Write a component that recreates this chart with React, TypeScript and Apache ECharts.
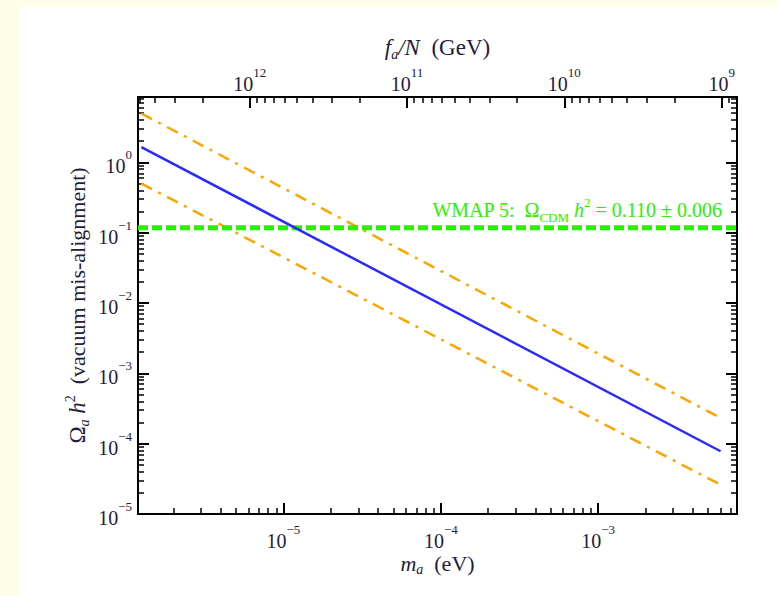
import React, { useEffect, useRef } from 'react';
import * as echarts from 'echarts';

// ---- data ----
const massEV = [1.25e-6, 6.0e-3]; // m_a (eV) at the two ends of each curve
const omegaCentral = [1.65, 7.8e-5];
const omegaUpper = [4.95, 2.32e-4];
const omegaLower = [0.5, 2.6e-5];
const wmapOmega = 0.118;
const wmapMassEnds = [1.19e-6, 7.63e-3];

// axis extents and tick decades
const massExtent = [1.19e-6, 7.63e-3];
const omegaExtent = [1e-5, 8.5];
const faConstant = 6.1e6; // f_a/N (GeV) = faConstant / m_a (eV)
const massDecades = [-5, -4, -3];
const omegaDecades = [-5, -4, -3, -2, -1, 0];
const faDecades = [9, 10, 11, 12];

const SERIF = '"Liberation Serif", "Times New Roman", "DejaVu Serif", serif';
const INK = '#241c3c';
const GREEN = '#2bef00';
const ORANGE = '#ffa500';
const BLUE = '#2a2aff';

const lg = Math.log10;
const xLo = lg(massExtent[0]);
const xHi = lg(massExtent[1]);
const yLo = lg(omegaExtent[0]);
const yHi = lg(omegaExtent[1]);
const logC = lg(faConstant);
const fLo = logC - xHi;
const fHi = logC - xLo;

function minorLogTicks(lo: number, hi: number) {
  const out: number[] = [];
  for (let n = Math.floor(lo) - 1; n <= Math.ceil(hi); n++) {
    for (let k = 2; k <= 9; k++) {
      const v = n + lg(k);
      if (v > lo && v < hi) out.push(v);
    }
  }
  return out;
}

const supText = (n: number) => (n < 0 ? '\u2212' + String(-n) : String(n));
const powLabel = (v: number) => `{b|10}{s|${supText(Math.round(v))}}`;

const tickRich = {
  b: { fontFamily: SERIF, fontSize: 20, lineHeight: 20, verticalAlign: 'bottom', color: INK },
  s: { fontFamily: SERIF, fontSize: 13, lineHeight: 28, verticalAlign: 'top', color: INK },
};

const axisLine = { show: true, onZero: false, lineStyle: { color: '#000', width: 2 } };

function majorAxis(position: string, min: number, max: number, majors: number[], opts: any = {}) {
  return {
    type: 'value',
    position,
    min,
    max,
    inverse: !!opts.inverse,
    splitLine: { show: false },
    axisLine,
    axisTick: { show: true, inside: true, length: 11, lineStyle: { color: '#000', width: 2 }, customValues: majors },
    axisLabel: opts.labels
      ? { show: true, customValues: majors, formatter: powLabel, rich: tickRich, margin: opts.margin }
      : { show: false },
    name: opts.name || '',
    nameLocation: 'middle',
    nameGap: opts.nameGap || 0,
    nameMoveOverlap: false,
    nameRotate: opts.nameRotate,
    nameTextStyle: opts.nameTextStyle,
  };
}

function minorAxis(position: string, min: number, max: number, opts: any = {}) {
  return {
    type: 'value',
    position,
    min,
    max,
    inverse: !!opts.inverse,
    splitLine: { show: false },
    axisLine: { show: false, onZero: false },
    axisTick: { show: true, inside: true, length: 6, lineStyle: { color: '#000', width: 1.5 }, customValues: minorLogTicks(min, max) },
    axisLabel: { show: false },
  };
}

const makeTitleRich = (size: number, lh: number) => ({
  t: { fontFamily: SERIF, fontSize: size, color: INK, lineHeight: lh },
  i: { fontFamily: SERIF, fontSize: size, fontStyle: 'italic', color: INK, lineHeight: lh },
  sub: { fontFamily: SERIF, fontSize: 14, fontStyle: 'italic', color: INK, lineHeight: 12, verticalAlign: 'bottom' },
  sup: { fontFamily: SERIF, fontSize: 14, color: INK, lineHeight: 12, verticalAlign: 'top' },
  st: { fontFamily: SERIF, fontSize: 22, color: INK, lineHeight: lh },
});

const greenRich = {
  g: { fontFamily: SERIF, fontSize: 20, color: GREEN, lineHeight: 28 },
  gsub: { fontFamily: SERIF, fontSize: 13, color: GREEN, lineHeight: 12, verticalAlign: 'bottom' },
  gsup: { fontFamily: SERIF, fontSize: 13, color: GREEN, lineHeight: 12, verticalAlign: 'top' },
  gi: { fontFamily: SERIF, fontSize: 20, fontStyle: 'italic', color: GREEN, lineHeight: 28 },
};

const toXY = (ys: number[]) => massEV.map((m, i) => [lg(m), lg(ys[i])]);

export default function App() {
  const ref = useRef<HTMLDivElement>(null);
  useEffect(() => {
    if (!ref.current) return;
    const chart = echarts.init(ref.current, undefined, { renderer: 'svg' });
    chart.setOption({
      animation: false,
      grid: { left: 138, right: 40, top: 97, bottom: 82, containLabel: false, outerBoundsMode: 'none' },
      xAxis: [
        majorAxis('bottom', xLo, xHi, massDecades, {
          labels: true,
          margin: 9,
          name: '{i|m}{sub|a}{t|  (eV)}',
          nameGap: 37,
          nameTextStyle: { rich: makeTitleRich(22, 25) },
        }),
        minorAxis('bottom', xLo, xHi),
        majorAxis('top', fLo, fHi, faDecades, {
          inverse: true,
          labels: true,
          margin: 3,
          name: '{i|f}{sub|a}{i|/N}{t|  (GeV)}',
          nameGap: 36,
          nameTextStyle: { rich: makeTitleRich(23, 28) },
        }),
        minorAxis('top', fLo, fHi, { inverse: true }),
      ],
      yAxis: [
        majorAxis('left', yLo, yHi, omegaDecades, {
          labels: true,
          margin: 6,
          name: '{t|\u03A9}{sub|a}{i| h}{sup|2}{st|  (vacuum mis-alignment)}',
          nameGap: 47,
          nameRotate: 90,
          nameTextStyle: { rich: makeTitleRich(23, 28) },
        }),
        minorAxis('left', yLo, yHi),
        majorAxis('right', yLo, yHi, omegaDecades),
        minorAxis('right', yLo, yHi),
      ],
      series: [
        {
          type: 'line',
          xAxisIndex: 0,
          yAxisIndex: 0,
          data: [[lg(wmapMassEnds[0]), lg(wmapOmega)], [lg(wmapMassEnds[1]), lg(wmapOmega)]],
          symbol: 'none',
          showSymbol: false,
          lineStyle: { color: GREEN, width: 5, type: [10, 4], cap: 'butt' },
          z: 3,
          markLine: {
            silent: true,
            symbol: ['none', 'none'],
            data: [{ yAxis: lg(wmapOmega) }],
            lineStyle: { color: 'rgba(0,0,0,0)', width: 1, type: 'solid' },
            label: {
              show: true,
              position: 'insideEndTop',
              distance: [15, 4],
              formatter: '{g|WMAP 5:  \u03A9}{gsub|CDM}{gi| h}{gsup|2}{g| = 0.110 \u00B1 0.006}',
              rich: greenRich,
            },
          },
        },
        {
          type: 'line',
          xAxisIndex: 0,
          yAxisIndex: 0,
          data: toXY(omegaUpper),
          symbol: 'none',
          showSymbol: false,
          lineStyle: { color: ORANGE, width: 2.5, type: [12, 7, 3, 7] },
          z: 2,
        },
        {
          type: 'line',
          xAxisIndex: 0,
          yAxisIndex: 0,
          data: toXY(omegaLower),
          symbol: 'none',
          showSymbol: false,
          lineStyle: { color: ORANGE, width: 2.5, type: [12, 7, 3, 7] },
          z: 2,
        },
        {
          type: 'line',
          xAxisIndex: 0,
          yAxisIndex: 0,
          data: toXY(omegaCentral),
          symbol: 'none',
          showSymbol: false,
          lineStyle: { color: BLUE, width: 2.5 },
          z: 4,
        },
      ],
    });
    return () => chart.dispose();
  }, []);

  return (
    <div style={{ position: 'fixed', left: 0, top: 0, width: 777, height: 596, background: '#fefde8' }}>
      <div style={{ position: 'absolute', left: 19, top: 7, right: 0, bottom: 0, background: '#ffffff' }} />
      <div ref={ref} style={{ position: 'absolute', left: 0, top: 0, width: 777, height: 596 }} />
    </div>
  );
}
